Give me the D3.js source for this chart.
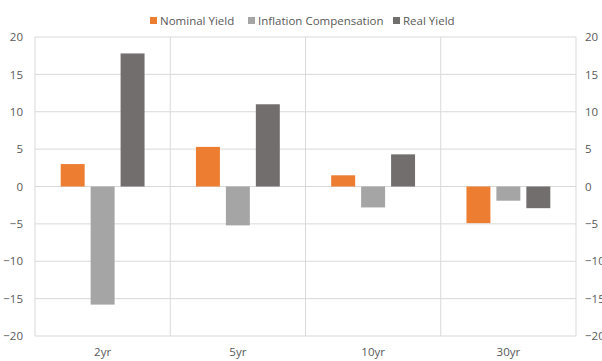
<!DOCTYPE html>
<html lang="en">
<head>
<meta charset="UTF-8">
<title>Yield decomposition</title>
<script src="https://d3js.org/d3.v7.min.js"></script>
<style>
  body { margin: 0; background: #fff; }
  text { font-family: "Open Sans", "Noto Sans", sans-serif; fill: #595959; }
</style>
</head>
<body>
<div id="chart"></div>
<script>
// data
var categories = ["2yr", "5yr", "10yr", "30yr"];
var seriesNames = ["Nominal Yield", "Inflation Compensation", "Real Yield"];
var nominal = [3.0, 5.3, 1.5, -4.9];
var inflation = [-15.8, -5.2, -2.8, -1.9];
var real = [17.8, 11.0, 4.3, -2.9];
var yTicks = [-20, -15, -10, -5, 0, 5, 10, 15, 20];
var colors = ["#ED7D31", "#A5A5A5", "#726E6E"];

var values = [nominal, inflation, real];

var width = 602, height = 361;
var margin = {top: 37, right: 26, bottom: 25, left: 35};

var svg = d3.select("#chart").append("svg")
  .attr("width", width).attr("height", height);

var x = d3.scaleBand()
  .domain(categories)
  .range([margin.left, width - margin.right]);

var inner = d3.scaleBand()
  .domain(d3.range(seriesNames.length))
  .range([0, x.bandwidth() * 0.62])
  .paddingInner(0.2);

var y = d3.scaleLinear()
  .domain([-20, 20])
  .range([height - margin.bottom, margin.top]);

// horizontal grid
svg.append("g")
  .selectAll("line")
  .data(yTicks)
  .enter().append("line")
  .attr("x1", margin.left).attr("x2", width - margin.right)
  .attr("y1", d => y(d)).attr("y2", d => y(d))
  .attr("stroke", "#D9D9D9").attr("stroke-width", 1);

// vertical category dividers
var edges = categories.map(c => x(c)).concat([width - margin.right]);
svg.append("g")
  .selectAll("line")
  .data(edges)
  .enter().append("line")
  .attr("x1", d => d).attr("x2", d => d)
  .attr("y1", margin.top).attr("y2", height - margin.bottom)
  .attr("stroke", "#D9D9D9").attr("stroke-width", 1);

// bars
var groupOffset = (x.bandwidth() - inner.range()[1]) / 2;
values.forEach(function(vals, s) {
  svg.append("g")
    .selectAll("rect")
    .data(vals)
    .enter().append("rect")
    .attr("x", (d, i) => x(categories[i]) + groupOffset + inner(s))
    .attr("width", inner.bandwidth())
    .attr("y", d => y(Math.max(0, d)))
    .attr("height", d => Math.abs(y(d) - y(0)))
    .attr("fill", colors[s]);
});

// left axis labels
var leftAxis = d3.axisLeft(y).tickValues(yTicks).tickSize(0).tickPadding(12);
var gl = svg.append("g")
  .attr("transform", "translate(" + margin.left + ",0)")
  .call(leftAxis);
gl.select(".domain").remove();
gl.selectAll("text").style("font-size", "11.5px").attr("fill", "#595959");

// right axis labels
var rightAxis = d3.axisRight(y).tickValues(yTicks).tickSize(0).tickPadding(9);
var gr = svg.append("g")
  .attr("transform", "translate(" + (width - margin.right) + ",0)")
  .call(rightAxis);
gr.select(".domain").remove();
gr.selectAll("text").style("font-size", "11.5px").attr("fill", "#595959");

// category labels
svg.append("g")
  .selectAll("text")
  .data(categories)
  .enter().append("text")
  .attr("x", d => x(d) + x.bandwidth() / 2)
  .attr("y", height - 5)
  .attr("text-anchor", "middle")
  .style("font-size", "11.5px")
  .text(d => d);

// legend
var legendX = [150, 248, 393];
var legend = svg.append("g");
seriesNames.forEach(function(name, i) {
  legend.append("rect")
    .attr("x", legendX[i]).attr("y", 17)
    .attr("width", 7).attr("height", 7)
    .attr("fill", colors[i]);
  legend.append("text")
    .attr("x", legendX[i] + 10).attr("y", 25)
    .style("font-size", "11.5px")
    .text(name);
});
</script>
</body>
</html>
